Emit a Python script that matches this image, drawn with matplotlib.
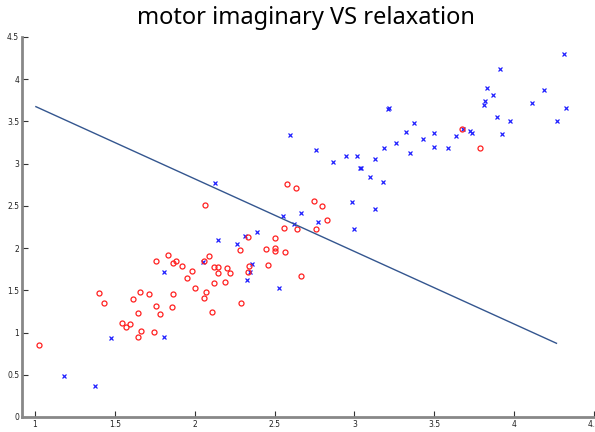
import matplotlib
matplotlib.use("Agg")
import matplotlib.pyplot as plt

title = "motor imaginary VS relaxation"

red_x = [1.025, 1.400, 1.434, 1.542, 1.567, 1.597, 1.615, 1.647, 1.659, 1.643,
         1.661, 1.711, 1.745, 1.757, 1.757, 1.780, 1.834, 1.855, 1.866, 1.866,
         1.880, 1.922, 1.953, 1.984, 2.003, 2.060, 2.058, 2.068, 2.089, 2.106,
         2.122, 2.122, 2.149, 2.143, 2.066, 2.189, 2.200, 2.222, 2.283, 2.291,
         2.335, 2.341, 2.337, 2.446, 2.458, 2.504, 2.504, 2.504, 2.558, 2.566,
         2.641, 2.579, 2.635, 2.748, 2.800, 2.827, 2.758, 3.674, 3.785, 2.667]
red_y = [0.853, 1.473, 1.351, 1.114, 1.066, 1.106, 1.394, 1.236, 1.477, 0.952,
         1.019, 1.461, 1.007, 1.311, 1.844, 1.216, 1.919, 1.307, 1.461, 1.821,
         1.844, 1.789, 1.647, 1.726, 1.528, 1.844, 1.414, 1.477, 1.908, 1.248,
         1.777, 1.588, 1.777, 1.706, 2.516, 1.596, 1.761, 1.706, 1.975, 1.351,
         2.133, 1.793, 1.718, 1.994, 1.805, 2.121, 2.006, 1.963, 2.243, 1.951,
         2.227, 2.764, 2.717, 2.555, 2.504, 2.338, 2.227, 3.412, 3.191, 1.667]

blue_x = [1.181, 1.373, 1.474, 1.807, 1.811, 2.051, 2.143, 2.266, 2.316, 2.389,
          2.360, 2.347, 2.327, 2.531, 2.552, 2.623, 2.667, 2.126, 2.596, 2.760,
          2.865, 2.946, 3.019, 3.126, 3.036, 3.044, 3.098, 3.178, 2.988, 3.126,
          2.769, 2.996, 3.211, 3.219, 3.184, 3.263, 3.326, 3.376, 3.345, 3.428,
          3.501, 3.501, 3.589, 3.639, 3.680, 3.724, 3.739, 3.810, 3.816, 3.830,
          3.870, 3.891, 3.914, 3.922, 3.977, 4.110, 4.187, 4.268, 4.310, 4.325]
blue_y = [0.482, 0.367, 0.940, 0.948, 1.722, 1.836, 2.097, 2.046, 2.145, 2.192,
          1.817, 1.722, 1.623, 1.525, 2.381, 2.287, 2.421, 2.776, 3.338, 3.160,
          3.025, 3.092, 3.096, 3.061, 2.946, 2.952, 2.848, 2.781, 2.551, 2.461,
          2.310, 2.229, 3.649, 3.655, 3.191, 3.250, 3.380, 3.483, 3.132, 3.298,
          3.365, 3.199, 3.187, 3.326, 3.412, 3.385, 3.365, 3.700, 3.748, 3.898,
          3.819, 3.558, 4.123, 3.357, 3.503, 3.724, 3.871, 3.511, 4.293, 3.657]

boundary_x = [1.006, 4.265]
boundary_y = [3.675, 0.873]

x_ticks = [1, 1.5, 2, 2.5, 3, 3.5, 4, 4.5]
x_tick_labels = ["1", "1.5", "2", "2.5", "3", "3.5", "4", "4.5"]
y_ticks = [0, 0.5, 1, 1.5, 2, 2.5, 3, 3.5, 4, 4.5]
y_tick_labels = ["0", "0.5", "1", "1.5", "2", "2.5", "3", "3.5", "4", "4.5"]

W, H = 595, 432
fig = plt.figure(figsize=(W / 100, H / 100), dpi=100)
ax = fig.add_axes([22 / W, 15 / H, (594 - 22) / W, (417 - 37) / H])

ax.plot(blue_x, blue_y, linestyle="none", marker="x", markersize=3.2,
        markeredgewidth=0.9, color="#2020ff")
ax.plot(red_x, red_y, linestyle="none", marker="o", markersize=3.6,
        markeredgewidth=0.9, markerfacecolor="none", markeredgecolor="#ff2020")
ax.plot(boundary_x, boundary_y, color="#34568f", linewidth=1.0)

ax.set_xlim(0.919, 4.5)
ax.set_ylim(0, 4.5)
ax.set_xticks(x_ticks)
ax.set_xticklabels(x_tick_labels)
ax.set_yticks(y_ticks)
ax.set_yticklabels(y_tick_labels)

for s in ["top", "right"]:
    ax.spines[s].set_visible(False)
for s in ["left", "bottom"]:
    ax.spines[s].set_color("#888888")
    ax.spines[s].set_linewidth(2.0)
ax.tick_params(direction="in", length=4, width=0.8, color="#333333",
               labelsize=5.5, labelcolor="#222222", pad=2)

fig.text(306 / W, 1 - 18 / H, title, ha="center", va="center",
         fontsize=17, family="Noto Sans")

fig.savefig("out.png", dpi=100)
